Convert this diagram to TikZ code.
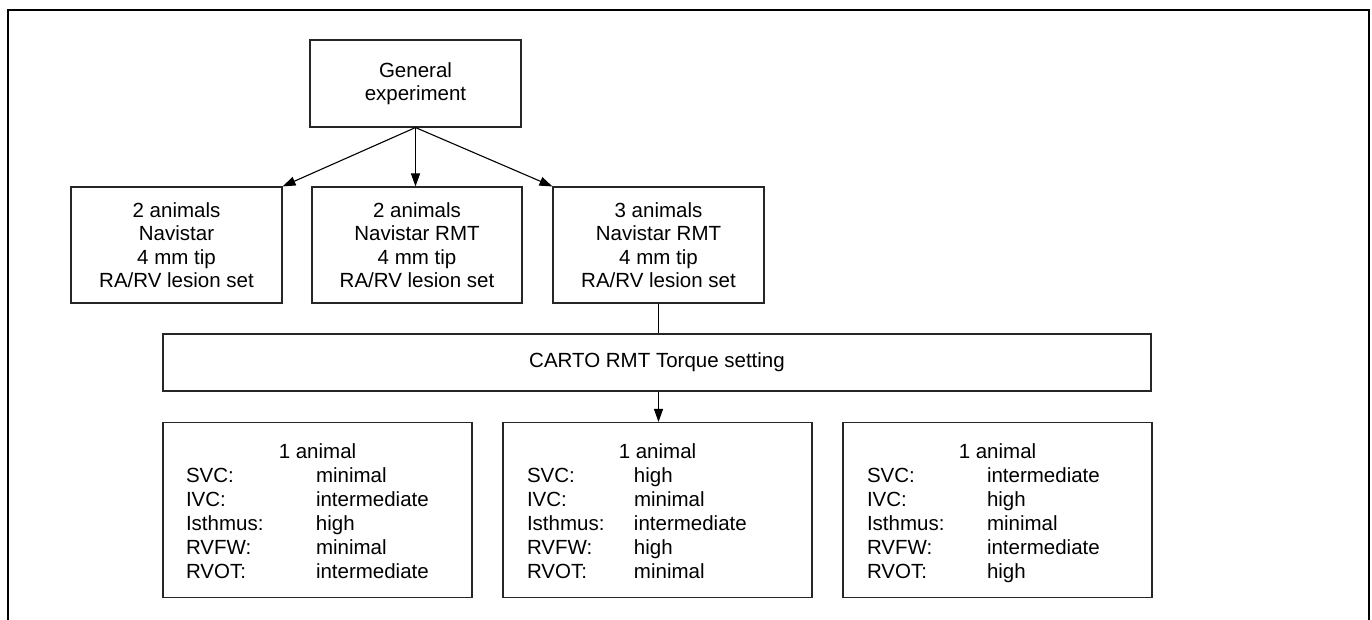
\documentclass[tikz,border=0pt]{standalone}
\usepackage{fontspec}
\setmainfont{Liberation Sans}
\usetikzlibrary{arrows.meta}
\begin{document}
\begin{tikzpicture}[x=1pt,y=-1pt,
  box/.style={draw=black!85,line width=1.1pt,rectangle,inner sep=0pt,align=center,
    font=\fontsize{20.5}{23.5}\selectfont},
  lbox/.style={draw=black!85,line width=1.1pt,rectangle,inner sep=0pt,
    minimum width=309pt,minimum height=175pt,
    font=\fontsize{20.5}{24}\selectfont},
  conn/.style={line width=1.1pt,black},
  arr/.style={conn,-{Triangle[length=13pt,width=9pt]}},
  frame/.style={line width=1.6pt,black}]
\useasboundingbox (0,0) rectangle (1372,620);
\draw[frame] (8,620) -- (8,10) -- (1369,10) -- (1369,620);

\node[box,minimum width=211pt,minimum height=87pt] (gen) at (415.5,83.5) {General\\experiment};
\node[box,minimum width=211pt,minimum height=116pt] (b1) at (176.5,245) {2 animals\\Navistar\\4 mm tip\\RA/RV lesion set};
\node[box,minimum width=210pt,minimum height=116pt] (b2) at (417,245) {2 animals\\Navistar RMT\\4 mm tip\\RA/RV lesion set};
\node[box,minimum width=211pt,minimum height=116pt] (b3) at (658.5,245) {3 animals\\Navistar RMT\\4 mm tip\\RA/RV lesion set};
\node[box,minimum width=988pt,minimum height=57pt] (carto) at (657,362.5) {CARTO RMT Torque setting};

\node[lbox] (ba) at (317.5,510) {\begin{minipage}{263pt}\vspace*{10pt}\noindent
\makebox[263pt]{1 animal}\\
\makebox[130pt][l]{SVC:}minimal\\
\makebox[130pt][l]{IVC:}intermediate\\
\makebox[130pt][l]{Isthmus:}high\\
\makebox[130pt][l]{RVFW:}minimal\\
\makebox[130pt][l]{RVOT:}intermediate\strut
\end{minipage}};
\node[lbox] (bb) at (657.5,510) {\begin{minipage}{261pt}\vspace*{10pt}\noindent
\makebox[261pt]{1 animal}\\
\makebox[107pt][l]{SVC:}high\\
\makebox[107pt][l]{IVC:}minimal\\
\makebox[107pt][l]{Isthmus:}intermediate\\
\makebox[107pt][l]{RVFW:}high\\
\makebox[107pt][l]{RVOT:}minimal\strut
\end{minipage}};
\node[lbox] (bc) at (997.5,510) {\begin{minipage}{261pt}\vspace*{10pt}\noindent
\makebox[261pt]{1 animal}\\
\makebox[120pt][l]{SVC:}intermediate\\
\makebox[120pt][l]{IVC:}high\\
\makebox[120pt][l]{Isthmus:}minimal\\
\makebox[120pt][l]{RVFW:}intermediate\\
\makebox[120pt][l]{RVOT:}high\strut
\end{minipage}};

\draw[arr] (gen.south) -- (b1.north east);
\draw[arr] (gen.south) -- (gen.south |- b2.north);
\draw[arr] (gen.south) -- (b3.north west);
\draw[conn] (b3.south) -- (b3.south |- carto.north);
\draw[arr] (carto.south -| b3.south) -- (b3.south |- bb.north);
\end{tikzpicture}
\end{document}
